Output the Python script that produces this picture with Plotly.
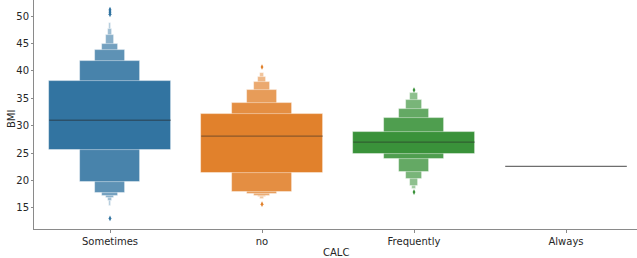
import plotly.graph_objects as go

categories = ["Sometimes", "no", "Frequently", "Always"]
base_colors = ["#3274a1", "#e1812c", "#3a923a", "#7f7f7f"]

# letter-value box ends, from the IQR box outward
lower_ends = [
    [25.5, 19.8, 17.7, 17.2, 16.8, 16.2, 15.3],
    [21.3, 17.9, 17.6, 17.2, 16.95, 16.6],
    [24.8, 23.9, 21.6, 20.35, 19.07, 18.5],
    [],
]
upper_ends = [
    [38.15, 41.85, 43.8, 44.9, 46.5, 47.6, 48.8],
    [32.2, 34.2, 36.5, 37.9, 38.94, 39.7],
    [28.9, 31.35, 33.05, 34.7, 36.0, 36.0],
    [],
]
medians = [31.0, 28.1, 27.0, 22.6]
outliers = [
    [50.3, 50.6, 50.9, 51.2, 13.1],
    [40.7, 15.7],
    [36.5, 17.9],
    [],
]
y_ticks = [15, 20, 25, 30, 35, 40, 45, 50]

n_boxes = 9
box_width = 0.8


def blend(hex_color, t):
    h = hex_color.lstrip("#")
    r, g, b = (int(h[i:i + 2], 16) for i in (0, 2, 4))
    r = r + (255 - r) * t
    g = g + (255 - g) * t
    b = b + (255 - b) * t
    return f"rgb({r:.0f},{g:.0f},{b:.0f})"


fig = go.Figure()

for i, cat in enumerate(categories):
    lows = lower_ends[i]
    ups = upper_ends[i]
    # draw narrowest first so the IQR box ends up on top
    for j in reversed(range(len(lows))):
        col = blend(base_colors[i], 0.85 * j / (n_boxes - 1))
        fig.add_trace(go.Bar(
            x=[i], y=[ups[j] - lows[j]], base=[lows[j]],
            width=[box_width * 0.5 ** j],
            marker=dict(color=col, line=dict(color="rgba(255,255,255,0.55)", width=0.8)),
            showlegend=False, hoverinfo="skip",
        ))
    if lows:
        fig.add_trace(go.Scatter(
            x=[i - box_width / 2, i + box_width / 2], y=[medians[i], medians[i]],
            mode="lines", line=dict(color="rgba(38,38,38,0.45)", width=1.3),
            showlegend=False, hoverinfo="skip",
        ))
    else:
        fig.add_trace(go.Scatter(
            x=[i - box_width / 2, i + box_width / 2], y=[medians[i], medians[i]],
            mode="lines", line=dict(color="#6e6e6e", width=1.3),
            showlegend=False, hoverinfo="skip",
        ))
    if outliers[i]:
        fig.add_trace(go.Scatter(
            x=[i] * len(outliers[i]), y=outliers[i], mode="markers",
            marker=dict(symbol="diamond-tall", size=4, color=base_colors[i]),
            showlegend=False, hoverinfo="skip",
        ))

font = "DejaVu Sans, sans-serif"
fig.update_layout(
    width=637, height=258,
    margin=dict(l=34, r=0, t=0, b=29),
    barmode="overlay", bargap=0,
    plot_bgcolor="white", paper_bgcolor="white",
    font=dict(family=font, size=10, color="#262626"),
    xaxis=dict(
        range=[-0.5, 3.467], tickmode="array", tickvals=list(range(len(categories))),
        ticktext=categories, showgrid=False, zeroline=False, automargin=False,
        showline=True, linecolor="#8a8a8a", linewidth=1,
        ticks="outside", ticklen=3, tickcolor="#8a8a8a",
    ),
    yaxis=dict(
        range=[11.17, 52.92], tickvals=y_ticks,
        showgrid=False, zeroline=False, automargin=False,
        showline=True, linecolor="#8a8a8a", linewidth=1,
        ticks="outside", ticklen=2, tickcolor="#8a8a8a",
    ),
    annotations=[
        dict(text="CALC", xref="paper", yref="paper", x=0.5, y=0,
             yshift=-23, xanchor="center", yanchor="middle", showarrow=False,
             font=dict(size=10)),
        dict(text="BMI", xref="paper", yref="paper", x=0, y=0.48, xshift=-23,
             textangle=-90, xanchor="center", yanchor="middle", showarrow=False,
             font=dict(size=10)),
    ],
)

fig.write_html(
    "out.html",
    config={"displayModeBar": False},
    post_script="document.body.style.margin='0';document.body.style.overflow='hidden';",
)
